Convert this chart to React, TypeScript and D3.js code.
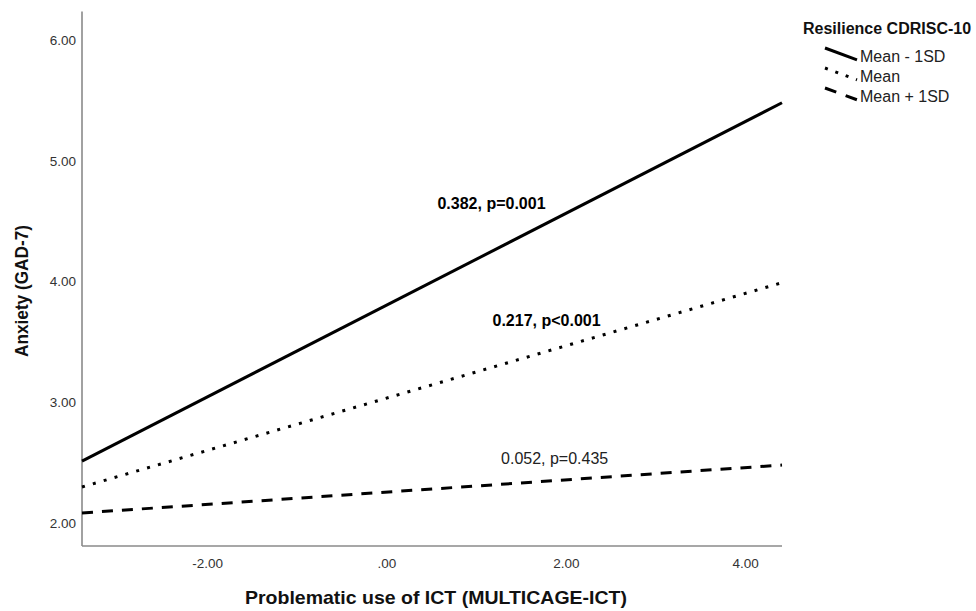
import React from "react";
import * as d3 from "d3";

// ---- data ----
const xEnds: number[] = [-3.4, 4.405];
const seriesNames: string[] = ["Mean - 1SD", "Mean", "Mean + 1SD"];
const seriesStartY: number[] = [2.513, 2.298, 2.083];
const seriesEndY: number[] = [5.48, 3.99, 2.48];
const annotationTexts: string[] = ["0.382, p=0.001", "0.217, p<0.001", "0.052, p=0.435"];
const annotationX: number[] = [1.166, 1.78, 1.87];
const annotationY: number[] = [4.65, 3.68, 2.54];
const annotationBold: boolean[] = [true, true, false];
const xTicks: number[] = [-2, 0, 2, 4];
const yTicks: number[] = [2, 3, 4, 5, 6];
const xTitle = "Problematic use of ICT (MULTICAGE-ICT)";
const yTitle = "Anxiety (GAD-7)";
const legendTitle = "Resilience CDRISC-10";

const FONT = "'Liberation Sans', Arial, Helvetica, sans-serif";
const dashes = ["none", "3 8.3", "11 9"];

function fmt(v: number): string {
  if (v === 0) return ".00";
  return v.toFixed(2);
}

export default function App() {
  const W = 976;
  const H = 611;
  const x = d3.scaleLinear().domain([xEnds[0], xEnds[1]]).range([82, 782]);
  const y = d3.scaleLinear().domain([1.8095, 6.236]).range([546, 11.5]);
  const line = d3
    .line<[number, number]>()
    .x((d) => x(d[0]))
    .y((d) => y(d[1]));

  const legendX = 825;
  const legendBase0 = 61.5;
  const legendStep = 20;

  return (
    <svg
      width={W}
      height={H}
      style={{ position: "absolute", left: 0, top: 0, background: "#fff" }}
      fontFamily={FONT}
    >
      <rect x={0} y={0} width={W} height={H} fill="#fff" />
      {/* axes */}
      <line x1={x.range()[0]} x2={x.range()[0]} y1={y.range()[0]} y2={y.range()[1]} stroke="#8a8a8a" strokeWidth={1.6} />
      <line x1={x.range()[0]} x2={x.range()[1]} y1={y.range()[0]} y2={y.range()[0]} stroke="#8a8a8a" strokeWidth={1.6} />
      {yTicks.map((t) => (
        <text key={"y" + t} x={76} y={y(t)} dy="0.36em" textAnchor="end" fontSize={13.5} fill="#333">
          {fmt(t)}
        </text>
      ))}
      {xTicks.map((t) => (
        <text key={"x" + t} x={x(t)} y={568} textAnchor="middle" fontSize={13.5} fill="#333">
          {fmt(t)}
        </text>
      ))}
      {/* axis titles */}
      <text x={436} y={604} textAnchor="middle" fontSize={18.6} fontWeight="bold" fill="#111" textLength={382} lengthAdjust="spacingAndGlyphs">
        {xTitle}
      </text>
      <text
        transform={`translate(28,291) rotate(-90)`}
        textAnchor="middle"
        fontSize={18}
        fontWeight="bold"
        fill="#111"
        textLength={132}
        lengthAdjust="spacingAndGlyphs"
      >
        {yTitle}
      </text>
      {/* lines */}
      {seriesNames.map((n, i) => (
        <path
          key={n}
          d={line([
            [xEnds[0], seriesStartY[i]],
            [xEnds[1], seriesEndY[i]],
          ]) || ""}
          fill="none"
          stroke="#000"
          strokeWidth={3}
          strokeDasharray={dashes[i]}
        />
      ))}
      {/* annotations */}
      {annotationTexts.map((t, i) => (
        <text
          key={t}
          x={x(annotationX[i])}
          y={y(annotationY[i])}
          dy="0.36em"
          textAnchor="middle"
          fontSize={16}
          fontWeight={annotationBold[i] ? "bold" : "normal"}
          fill={annotationBold[i] ? "#000" : "#222"}
        >
          {t}
        </text>
      ))}
      {/* legend */}
      <text x={803} y={34} fontSize={16} fontWeight="bold" fill="#111">
        {legendTitle}
      </text>
      {seriesNames.map((n, i) => {
        const b = legendBase0 + i * legendStep;
        return (
          <g key={"lg" + n}>
            <line
              x1={legendX}
              y1={b - 13.5}
              x2={legendX + 32}
              y2={b - 1.7}
              stroke="#000"
              strokeWidth={3}
              strokeDasharray={i === 1 ? "3 8" : i === 2 ? "12 10" : "none"}
            />
            <text x={860} y={b} fontSize={16} fill="#222">
              {n}
            </text>
          </g>
        );
      })}
    </svg>
  );
}
